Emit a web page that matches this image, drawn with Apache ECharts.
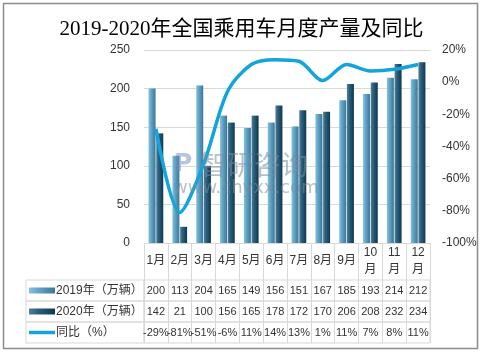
<!DOCTYPE html>
<html><head><meta charset="utf-8">
<script src="https://cdn.jsdelivr.net/npm/echarts@6/dist/echarts.min.js"></script>
<style>html,body{margin:0;padding:0;background:#fff}#c{width:483px;height:355px}</style>
</head><body><div id="c"></div>
<script>
const months = ['1月','2月','3月','4月','5月','6月','7月','8月','9月','10月','11月','12月'];
const prod2019 = [200,113,204,165,149,156,151,167,185,193,214,212];
const prod2020 = [142,21,100,156,165,178,172,170,206,208,232,234];
const yoy = [-29,-81,-51,-6,11,14,13,1,11,7,8,11];
const leftTicks = {min:0, max:250, interval:50};
const rightTicks = {min:-100, max:20, interval:20};
const seriesNames = ['2019年（万辆）','2020年（万辆）','同比（%）'];

const chart = echarts.init(document.getElementById('c'));
const FONT = "'Liberation Sans','Noto Sans CJK SC',sans-serif";
const grey = '#d9d9d9';
const rowTops = [280, 301, 322];
const rowH = 21;
const c2019 = new echarts.graphic.LinearGradient(0,0,1,0,[{offset:0,color:'#86c1de'},{offset:0.35,color:'#63a6c8'},{offset:1,color:'#3a7795'}]);
const c2020 = new echarts.graphic.LinearGradient(0,0,1,0,[{offset:0,color:'#4f819e'},{offset:0.35,color:'#2c5f7c'},{offset:1,color:'#0e3850'}]);

const rowData = [
  prod2019.map(String),
  prod2020.map(String),
  yoy.map(v => v + '%')
];

const grids = [{left:144, right:53, top:50, bottom:112}];
const xAxes = [{
  type:'category', gridIndex:0, data:months,
  axisLine:{lineStyle:{color:grey}},
  axisTick:{show:true, length:37, interval:0, lineStyle:{color:grey}},
  axisLabel:{interval:0, color:'#333', fontSize:12, fontFamily:FONT, margin:18, verticalAlign:'middle', lineHeight:17,
    formatter: v => v.length > 2 ? v.slice(0, v.length-1) + '\n' + v.slice(-1) : v}
}];
const yAxes = [
  {type:'value', gridIndex:0, min:leftTicks.min, max:leftTicks.max, interval:leftTicks.interval,
   axisLine:{show:false}, axisTick:{show:false},
   splitLine:{lineStyle:{color:grey}},
   axisLabel:{color:'#333', fontSize:12, fontFamily:FONT, margin:14}},
  {type:'value', gridIndex:0, position:'right', min:rightTicks.min, max:rightTicks.max, interval:rightTicks.interval,
   axisLine:{show:false}, axisTick:{show:false}, splitLine:{show:false},
   axisLabel:{color:'#333', fontSize:12, fontFamily:FONT, margin:12, formatter:'{value}%'}}
];
rowTops.forEach((t, i) => {
  grids.push({left:144, right:53, top:t, height:rowH, show:true, borderColor:grey, borderWidth:1});
  const gi = grids.length - 1;
  xAxes.push({type:'category', gridIndex:gi, data:rowData[i],
    axisLine:{show:false}, axisTick:{show:false},
    splitLine:{show:true, interval:0, lineStyle:{color:grey}},
    axisLabel:{inside:true, margin:10.5, verticalAlign:'middle', color:'#333', fontSize:11, fontFamily:FONT, interval:0}});
  yAxes.push({type:'value', gridIndex:gi, show:false});
  grids.push({left:26, width:118, top:t, height:rowH, show:true, borderColor:grey, borderWidth:1});
  const gj = grids.length - 1;
  xAxes.push({type:'category', gridIndex:gj, data:[''], show:false});
  yAxes.push({type:'value', gridIndex:gj, show:false});
});

chart.setOption({
  animation:false,
  title:{text:'2019-2020年全国乘用车月度产量及同比', left:'center', top:14,
    textStyle:{fontSize:21, fontWeight:'normal', color:'#000', fontFamily:"'Liberation Serif','DejaVu Serif','Noto Sans CJK SC',serif"}},
  grid:grids, xAxis:xAxes, yAxis:yAxes,
  legend:{orient:'vertical', left:29, top:283.5, padding:0, itemGap:7, itemWidth:26, itemHeight:6,
    textStyle:{fontSize:12, lineHeight:14, color:'#333', fontFamily:FONT, padding:[0,0,0,-4]},
    data:[{name:seriesNames[0], icon:'rect'},{name:seriesNames[1], icon:'rect'},{name:seriesNames[2], icon:'path://M0,0H26V3.5H0Z'}]},
  series:[
    {name:seriesNames[0], type:'bar', xAxisIndex:0, yAxisIndex:0, data:prod2019, barWidth:7, barGap:'10%', itemStyle:{color:c2019}},
    {name:seriesNames[1], type:'bar', xAxisIndex:0, yAxisIndex:0, data:prod2020, barWidth:7, barGap:'10%', itemStyle:{color:c2020}},
    {name:seriesNames[2], type:'line', xAxisIndex:0, yAxisIndex:1, data:yoy, smooth:0.3, symbol:'none',
     lineStyle:{color:'#12a4dd', width:3.5}, itemStyle:{color:'#12a4dd'}, z:5}
  ],
  graphic:[
    {type:'rect', shape:{x:3.5, y:3.5, width:474, height:345}, style:{fill:'none', stroke:'#8c8c8c', lineWidth:1.5}, silent:true},
    {type:'text', left:200, top:151, z:100, style:{text:'智研咨询', fontSize:27, fill:'rgba(120,140,160,0.55)', fontFamily:"'Noto Sans CJK SC',sans-serif"}},
    {type:'text', left:173, top:179, z:100, style:{text:'www.chyxx.com', fontSize:18, fill:'rgba(120,140,160,0.55)', fontFamily:"'DejaVu Sans',sans-serif"}},
    {type:'text', left:174, top:152, z:100, style:{text:'P', fontSize:25, fontWeight:'bold', fill:'rgba(110,140,190,0.5)', fontFamily:"'DejaVu Sans',sans-serif"}}
  ]
});
</script></body></html>
